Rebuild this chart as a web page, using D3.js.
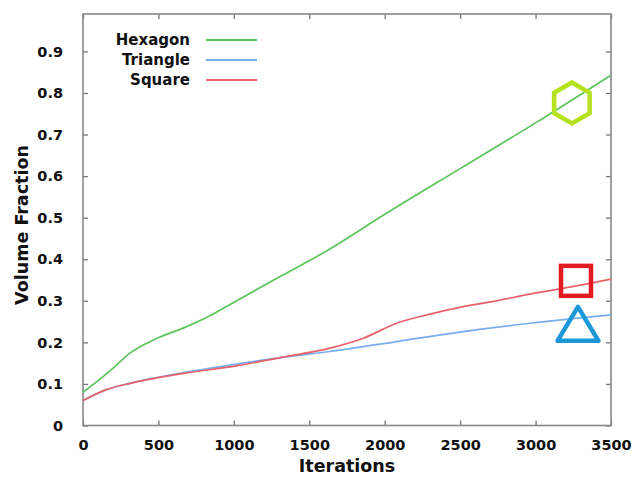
<!DOCTYPE html>
<html>
<head>
<meta charset="utf-8">
<script src="https://cdn.jsdelivr.net/npm/d3@7"></script>
<style>
  html, body { margin: 0; padding: 0; background: #fff; }
  svg { display: block; }
  text { font-family: "DejaVu Sans", sans-serif; font-weight: bold; fill: #111; }
</style>
</head>
<body>
<svg id="chart" width="633" height="479"></svg>
<script>
// Iteration counts sampled for each series
const hexIter = [0, 100, 200, 311, 477, 676, 831, 1007, 1300, 1626, 2000, 2500, 3000, 3500];
const hexVals = [0.08, 0.108, 0.138, 0.174, 0.2075, 0.236, 0.262, 0.298, 0.357, 0.4224, 0.508, 0.618, 0.728, 0.843];

const triIter = [0, 146, 311, 499, 676, 1007, 1317, 1637, 2079, 2521, 2963, 3500];
const triVals = [0.06, 0.085, 0.1015, 0.116, 0.128, 0.147, 0.164, 0.178, 0.202, 0.226, 0.246, 0.266];

const sqIter = [0, 146, 311, 499, 676, 1007, 1317, 1637, 1858, 2079, 2300, 2521, 2742, 2963, 3184, 3500];
const sqVals = [0.06, 0.085, 0.1015, 0.115, 0.126, 0.143, 0.164, 0.186, 0.21, 0.246, 0.268, 0.286, 0.30, 0.316, 0.33, 0.352];

const seriesNames = ["Hexagon", "Triangle", "Square"];
const seriesColors = ["#5cc45c", "#78aef0", "#e8626a"];

const xTicks = [0, 500, 1000, 1500, 2000, 2500, 3000, 3500];
const yTicks = [0, 0.1, 0.2, 0.3, 0.4, 0.5, 0.6, 0.7, 0.8, 0.9];

// Shape markers placed beside the curve ends: [iteration, value]
const hexMark = [3241, 0.776];
const sqMark = [3268, 0.348];
const triMark = [3281, 0.235];

const svg = d3.select("#chart");
const margin = { top: 14, right: 22, bottom: 53.5, left: 83 };
const W = 633, H = 479;
const iw = W - margin.left - margin.right;
const ih = H - margin.top - margin.bottom;

const x = d3.scaleLinear().domain([0, 3500]).range([0, iw]);
const y = d3.scaleLinear().domain([0, 0.99]).range([ih, 0]);

const g = svg.append("g").attr("transform", `translate(${margin.left},${margin.top})`);

const fmtY = d => d === 0 ? "0" : d3.format(".1f")(d);
const fmtX = d => String(d);

// Axes with inward ticks
const axL = g.append("g").call(d3.axisLeft(y).tickValues(yTicks).tickFormat(fmtY).tickSize(-5).tickPadding(20));
const axB = g.append("g").attr("transform", `translate(0,${ih})`)
  .call(d3.axisBottom(x).tickValues(xTicks).tickFormat(fmtX).tickSize(-5).tickPadding(14));
const axR = g.append("g").attr("transform", `translate(${iw},0)`)
  .call(d3.axisRight(y).tickValues(yTicks).tickSize(-5).tickFormat(""));
const axT = g.append("g")
  .call(d3.axisTop(x).tickValues(xTicks).tickSize(-5).tickFormat(""));

[axL, axB, axR, axT].forEach(a => {
  a.select(".domain").remove();
  a.selectAll(".tick line").attr("stroke", "#777").attr("stroke-width", 1.3);
  a.selectAll(".tick text").attr("font-size", 14.5).attr("font-family", "DejaVu Sans, sans-serif").attr("font-weight", "bold").attr("fill", "#111");
});

// Plot frame
g.append("rect").attr("x", 0).attr("y", 0).attr("width", iw).attr("height", ih)
  .attr("fill", "none").attr("stroke", "#888").attr("stroke-width", 1.6);

// Data lines
const line = d3.line().x(d => x(d[0])).y(d => y(d[1])).curve(d3.curveMonotoneX);
const series = [
  d3.zip(hexIter, hexVals),
  d3.zip(triIter, triVals),
  d3.zip(sqIter, sqVals)
];
// draw order: triangle, square, hexagon
[1, 2, 0].forEach(i => {
  g.append("path").datum(series[i]).attr("fill", "none")
    .attr("stroke", seriesColors[i]).attr("stroke-width", 1.7).attr("d", line);
});

// Shape markers
const hexR = 20.5;
const hexPts = d3.range(6).map(k => {
  const a = Math.PI / 3 * k - Math.PI / 2;
  return [x(hexMark[0]) + hexR * Math.cos(a), y(hexMark[1]) + hexR * Math.sin(a)];
});
g.append("polygon").attr("points", hexPts.map(p => p.join(",")).join(" "))
  .attr("fill", "none").attr("stroke", "#b5e21e").attr("stroke-width", 4.5).attr("stroke-linejoin", "miter");

const sqS = 30;
g.append("rect").attr("x", x(sqMark[0]) - sqS / 2).attr("y", y(sqMark[1]) - sqS / 2)
  .attr("width", sqS).attr("height", sqS)
  .attr("fill", "none").attr("stroke", "#e31a22").attr("stroke-width", 4.5);

const tcx = x(triMark[0]), tcy = y(triMark[1]);
const triPts = [[tcx, tcy - 21], [tcx + 20.5, tcy + 13], [tcx - 20.5, tcy + 13]];
g.append("polygon").attr("points", triPts.map(p => p.join(",")).join(" "))
  .attr("fill", "none").attr("stroke", "#1c98d8").attr("stroke-width", 4.5).attr("stroke-linejoin", "round");

// Legend
const leg = svg.append("g");
seriesNames.forEach((name, i) => {
  const ly = 40 + i * 20;
  leg.append("text").attr("x", 190).attr("y", ly).attr("dy", "0.35em")
    .attr("text-anchor", "end").attr("font-size", 15).text(name);
  leg.append("line").attr("x1", 206).attr("x2", 257).attr("y1", ly).attr("y2", ly)
    .attr("stroke", seriesColors[i]).attr("stroke-width", 2);
});

// Axis titles
svg.append("text").attr("x", margin.left + iw / 2).attr("y", 472)
  .attr("text-anchor", "middle").attr("font-size", 17.5).text("Iterations");
svg.append("text").attr("transform", `translate(28,${225}) rotate(-90)`)
  .attr("text-anchor", "middle").attr("font-size", 17.5).text("Volume Fraction");
</script>
</body>
</html>
